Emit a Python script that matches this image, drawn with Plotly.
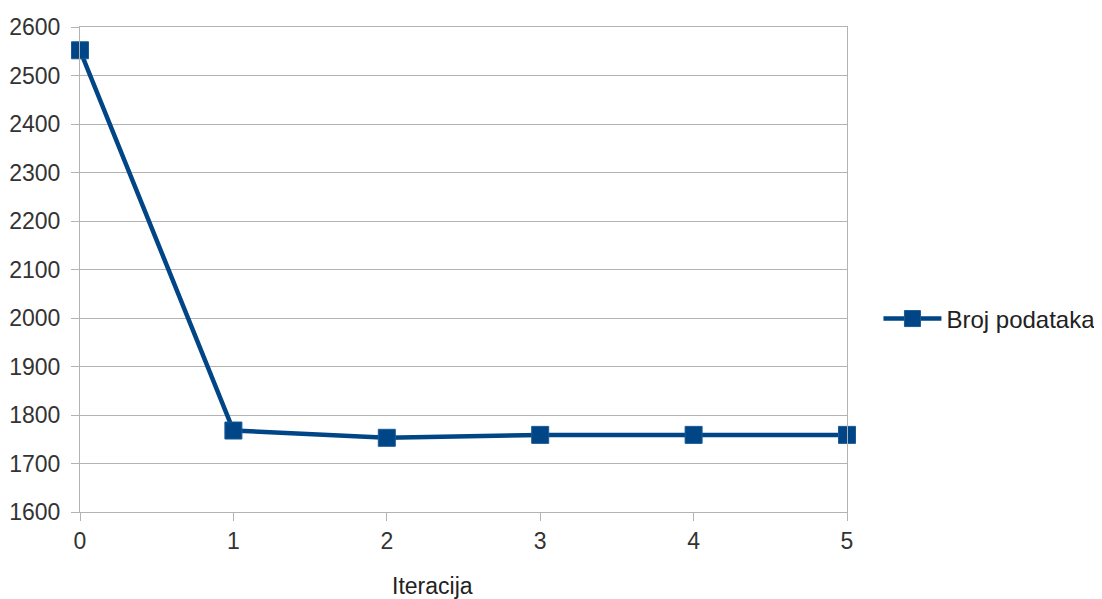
import plotly.graph_objects as go

iterations = [0, 1, 2, 3, 4, 5]
broj_podataka = [2552, 1768, 1753, 1759, 1759, 1759]
series_name = "Broj podataka"
x_title = "Iteracija"

color = "#004586"
grid = "#b3b3b3"
font = "Liberation Sans, Arial, sans-serif"

fig = go.Figure()
fig.add_trace(go.Scatter(
    x=iterations, y=broj_podataka, name=series_name,
    mode="lines+markers", cliponaxis=False,
    line=dict(color=color, width=4.5),
    marker=dict(symbol="square", size=17, color=color,
                line=dict(color="#1a5a96", width=1)),
))

fig.update_layout(
    width=1094, height=591,
    margin=dict(l=72, r=255, t=19, b=87, autoexpand=False),
    paper_bgcolor="white", plot_bgcolor="white",
    font=dict(family=font, size=23, color="#333333"),
    showlegend=True,
    legend=dict(x=1.041, y=0.398, xanchor="left", yanchor="middle",
                font=dict(size=24, color="#222222"), itemwidth=58),
    annotations=[dict(text=x_title, x=0.459, y=-0.152, xref="paper", yref="paper",
                      showarrow=False, xanchor="center", yanchor="middle",
                      font=dict(size=23, color="#222222"))],
)
fig.update_xaxes(
    range=[0, 5], tickvals=iterations, showgrid=False, automargin=False,
    showline=True, linecolor=grid, linewidth=1, mirror=True,
    ticks="outside", ticklen=8, tickcolor=grid, zeroline=False,
    ticklabelstandoff=0,
    tickfont=dict(size=23, color="#333333"),
)
fig.update_yaxes(
    range=[1600, 2600], dtick=100, showgrid=True, gridcolor=grid, gridwidth=1,
    automargin=False,
    showline=True, linecolor=grid, linewidth=1, mirror=True,
    ticks="outside", ticklen=8, tickcolor=grid, zeroline=False,
    ticklabelstandoff=6,
    tickfont=dict(size=23, color="#333333"),
)
fig.write_html("out.html")
